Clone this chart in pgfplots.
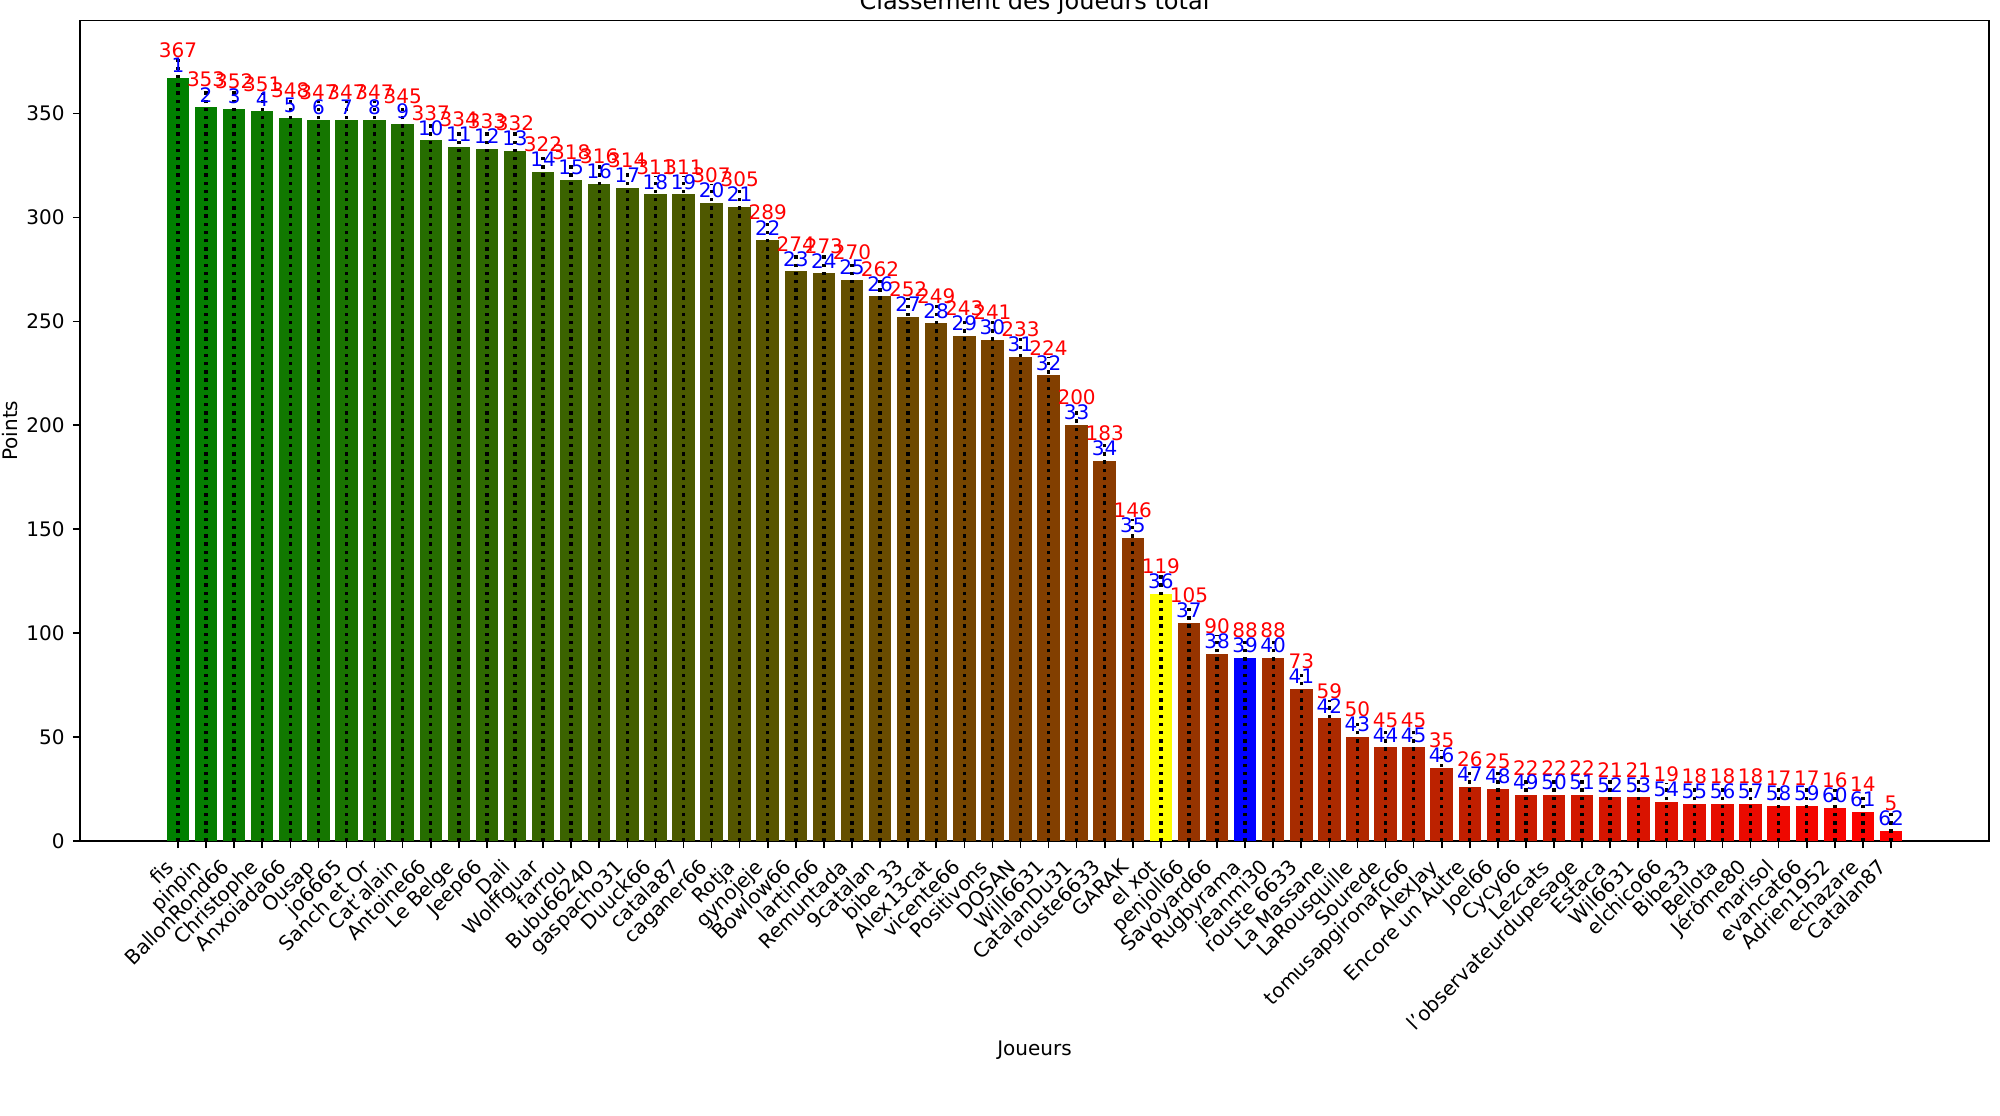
\documentclass[border=0pt]{standalone}
\usepackage{pgfplots}
\pgfplotsset{compat=1.18}
\usepackage{pgfplotstable}
\usepackage{fontspec}
\setmainfont{DejaVu Sans}
\definecolor{mpgreen}{RGB}{0,128,0}
\definecolor{mpred}{RGB}{255,0,0}
\definecolor{mpblue}{RGB}{0,0,255}
\definecolor{mpyellow}{RGB}{255,255,0}
\foreach \i in {0,...,61}{\pgfmathsetmacro\p{\i*100/61}\xglobal\colorlet{bar\i}{mpred!\p!mpgreen}}
\colorlet{bar35}{mpyellow}
\colorlet{bar38}{mpblue}

\pgfplotstableread{
i rank pts
0 1 367
1 2 353
2 3 352
3 4 351
4 5 348
5 6 347
6 7 347
7 8 347
8 9 345
9 10 337
10 11 334
11 12 333
12 13 332
13 14 322
14 15 318
15 16 316
16 17 314
17 18 311
18 19 311
19 20 307
20 21 305
21 22 289
22 23 274
23 24 273
24 25 270
25 26 262
26 27 252
27 28 249
28 29 243
29 30 241
30 31 233
31 32 224
32 33 200
33 34 183
34 35 146
35 36 119
36 37 105
37 38 90
38 39 88
39 40 88
40 41 73
41 42 59
42 43 50
43 44 45
44 45 45
45 46 35
46 47 26
47 48 25
48 49 22
49 50 22
50 51 22
51 52 21
52 53 21
53 54 19
54 55 18
55 56 18
56 57 18
57 58 17
58 59 17
59 60 16
60 61 14
61 62 5
}\data

\begin{document}
\begin{tikzpicture}
\useasboundingbox (-40pt,-137pt) rectangle (960pt,420.5pt);
\begin{axis}[
  scale only axis,
  width=954.5pt, height=410.25pt,
  xmin=-3.49, xmax=64.49,
  ymin=0, ymax=394.7,
  clip=false,
  axis line style={line width=0.8pt},
  tick align=outside,
  xtick pos=left, ytick pos=left,
  major tick length=3.5pt,
  tick style={line width=0.8pt, black},
  xtick={0,...,61},
  xticklabels={fis,pinpin,BallonRond66,Christophe,Anxoiada66,Ousap,jo6665,Sanch et Or,Cat'alain,Antoine66,Le Belge,Jeep66,Dali,Wolffguar,farrou,Bubu66240,gaspacho31,Duuck66,catala87,caganer66,Rotja,gynojeje,Bowlow66,lartin66,Remuntada,9catalan,bibe 33,Alex13cat,vicente66,Positivons,DOSAN,Will6631,CatalanDu31,rouste6633,GARAK,el xot,penjoll66,Savoyard66,Rugbyrama,jeanmi30,rouste 6633,La Massane,LaRousquille,Sourede,tomusapgironafc66,AlexJay,Encore un Autre,Joel66,Cycy66,Lezcats,l'observateurdupesage,Estaca,Wil6631,elchico66,Bibe33,Bellota,Jérôme80,marisol,evancat66,Adrien1952,echazare,Catalan87},
  xticklabel style={font=\fontsize{10}{12}\selectfont, inner sep=0pt, text height=9.3pt, text depth=2.4pt, xshift=-8.2pt, yshift=-3.5pt, rotate=45, anchor=north east},
  ytick={0,50,...,350},
  yticklabel style={font=\fontsize{10}{12}\selectfont, inner sep=0pt, anchor=east, xshift=-4pt},
  /pgf/number format/assume math mode=true,
  title={Classement des joueurs total},
  every axis title shift=0pt,
  title style={font=\fontsize{12}{14}\selectfont, at={(axis description cs:0.5,1)}, anchor=base, yshift=5.5pt},
  xlabel={Joueurs},
  every axis x label/.style={at={(axis description cs:0.5,-0.2547)}, anchor=center, font=\fontsize{10}{12}\selectfont},
  ylabel={Points},
  every axis y label/.style={at={(axis description cs:-0.0366,0.5)}, rotate=90, anchor=center, font=\fontsize{10}{12}\selectfont},
]
\pgfplotsinvokeforeach{0,...,61}{
  \addplot[ybar, bar width=0.8, bar shift=0pt, fill=bar#1, draw=none] table[x=i, y=pts, restrict x to domain=#1:#1]{\data};
}
\addplot[ycomb, black, line width=1.7pt, dash pattern=on 1.7pt off 2.4pt, mark=none] table[x=i, y expr=\thisrow{pts}+9]{\data};
\addplot[draw=none, mark=none, nodes near coords, point meta=explicit symbolic,
  nodes near coords style={mpred, anchor=center, yshift=13.8pt, inner sep=0pt, font=\fontsize{10}{12}\selectfont}]
  table[x=i, y=pts, meta=pts]{\data};
\addplot[draw=none, mark=none, nodes near coords, point meta=explicit symbolic,
  nodes near coords style={mpblue, anchor=center, yshift=6.3pt, inner sep=0pt, font=\fontsize{10}{12}\selectfont}]
  table[x=i, y=pts, meta=rank]{\data};
\end{axis}
\end{tikzpicture}
\end{document}
